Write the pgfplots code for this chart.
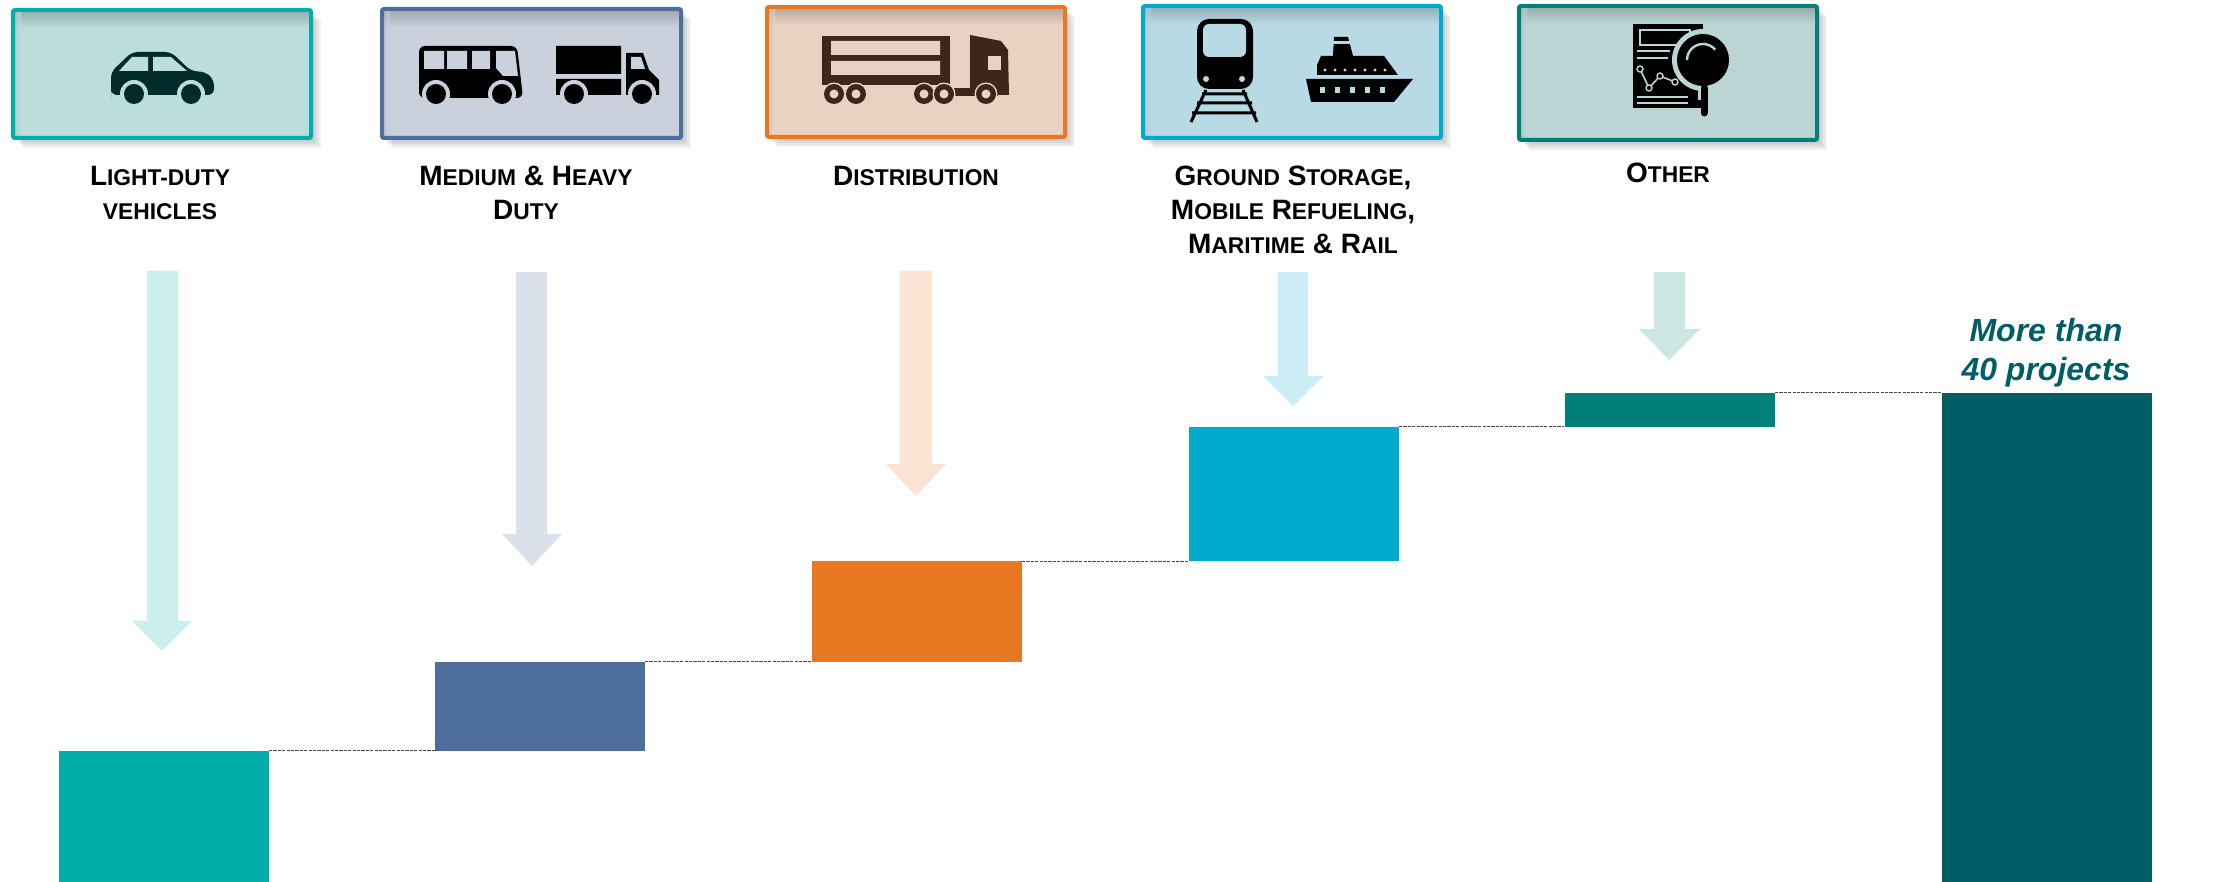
\documentclass[border=0pt]{standalone}
\usepackage{pgfplots}
\usepackage{pgfplotstable}
\usepackage{fontspec}
\setmainfont{Liberation Sans}
\pgfplotsset{compat=1.18}
\definecolor{cA}{HTML}{00ADA9}\definecolor{cB}{HTML}{4D6D9C}\definecolor{cC}{HTML}{E87722}
\definecolor{cD}{HTML}{00A9CE}\definecolor{cE}{HTML}{007F7B}\definecolor{cF}{HTML}{005C66}
\definecolor{fA}{HTML}{BBDDDB}\definecolor{fB}{HTML}{CAD0DC}\definecolor{fC}{HTML}{E9D2C2}
\definecolor{fD}{HTML}{B8DAE4}\definecolor{fE}{HTML}{BBD5D5}
\definecolor{aA}{HTML}{CCEEEC}\definecolor{aB}{HTML}{DBE1EB}\definecolor{aC}{HTML}{FBE3D3}
\definecolor{aD}{HTML}{CCEDF5}\definecolor{aE}{HTML}{CCE6E4}
\definecolor{carc}{HTML}{002B2B}\definecolor{trk}{HTML}{40251A}
\pgfplotstableread{
x     base  ldv  mhd  dist gnd  oth  tot
163.5 0     10.75 0    0    0    0    0
540   10.75 0    7.25 0    0    0    0
916.5 18.0  0    0    8.25 0    0    0
1293.5 26.25 0   0    0    11.0 0    0
1669.5 37.25 0   0    0    0    2.75 0
2046.5 0    0    0    0    0    0    40
}\bars
\newcommand\sm[1]{{\fontsize{11.4}{17}\selectfont #1}}
\newcommand\iconbox[6]{%
  \foreach \d in {2,4,...,10}{\fill[black,opacity=0.05] (#1+\d,#2+\d) rectangle (#3+\d,#4+\d);}
  \fill[#5] (#1,#2) rectangle (#3,#4);
  \shade[top color=black!22!#5,bottom color=#5] (#1,#2) rectangle (#3,#2+18);
  \shade[left color=black!10!#5,right color=#5,fill opacity=0.6] (#1,#2) rectangle (#1+8,#4);
  \draw[#6,line width=2pt,rounded corners=1pt] (#1,#2) rectangle (#3,#4);
}
\begin{document}
\begin{tikzpicture}
\path[use as bounding box] (0,0) rectangle (1117pt,441pt);
\begin{axis}[
  at={(0,0)},anchor=south west,
  scale only axis,width=1117pt,height=441pt,
  xmin=0,xmax=2234,ymin=0,ymax=72.147,
  hide axis,
  ybar stacked,bar width=210,
]
\addplot[draw=none,fill=none] table[x=x,y=base]{\bars};
\addplot[draw=none,fill=cA] table[x=x,y=ldv]{\bars};
\addplot[draw=none,fill=cB] table[x=x,y=mhd]{\bars};
\addplot[draw=none,fill=cC] table[x=x,y=dist]{\bars};
\addplot[draw=none,fill=cD] table[x=x,y=gnd]{\bars};
\addplot[draw=none,fill=cE] table[x=x,y=oth]{\bars};
\addplot[draw=none,fill=cF] table[x=x,y=tot]{\bars};
\end{axis}
\begin{axis}[
  at={(0,0)},anchor=south west,
  scale only axis,width=1117pt,height=441pt,
  xmin=0,xmax=2234,ymin=0,ymax=72.147,
  hide axis,
]
\addplot[black!72,line width=0.5pt,dash pattern=on 1.6pt off 0.6pt] coordinates {(269,10.75)(435,10.75)};
\addplot[black!72,line width=0.5pt,dash pattern=on 1.6pt off 0.6pt] coordinates {(645,18.0)(812,18.0)};
\addplot[black!72,line width=0.5pt,dash pattern=on 1.6pt off 0.6pt] coordinates {(1022,26.25)(1189,26.25)};
\addplot[black!72,line width=0.5pt,dash pattern=on 1.6pt off 0.6pt] coordinates {(1399,37.25)(1564,37.25)};
\addplot[black!72,line width=0.5pt,dash pattern=on 1.6pt off 0.6pt] coordinates {(1775,40)(1942,40)};
\end{axis}
\begin{scope}[x=0.5pt,y=-0.5pt,shift={(0,-882)}]
% boxes
\iconbox{13}{10}{311}{138}{fA}{cA}
\iconbox{382}{9}{681}{138}{fB}{cB}
\iconbox{767}{7}{1065}{137}{fC}{cC}
\iconbox{1143}{6}{1441}{138}{fD}{cD}
\iconbox{1519}{6}{1817}{140}{fE}{cE}
% arrows
\fill[aA] (147,271)--(178,271)--(178,621)--(192,621)--(162,651)--(132,621)--(147,621)--cycle;
\fill[aB] (516,272)--(547,272)--(547,534)--(562,534)--(532,566)--(502,534)--(516,534)--cycle;
\fill[aC] (900,271)--(932,271)--(932,464)--(946,464)--(916,496)--(886,464)--(900,464)--cycle;
\fill[aD] (1278,272)--(1308,272)--(1308,376)--(1323,376)--(1293,406)--(1263,376)--(1278,376)--cycle;
\fill[aE] (1654,272)--(1685,272)--(1685,329)--(1700,329)--(1669,360)--(1639,329)--(1654,329)--cycle;
% labels
\begin{scope}[every node/.style={align=center,font=\bfseries\fontsize{14}{17}\selectfont,inner sep=0pt,anchor=north}]
\node at (160,166) {L\sm{IGHT-DUTY}\\[0pt]\sm{VEHICLES}};
\node at (526,166) {M\sm{EDIUM} \& H\sm{EAVY}\\D\sm{UTY}};
\node at (916,166) {D\sm{ISTRIBUTION}};
\node at (1293,166) {G\sm{ROUND} S\sm{TORAGE},\\M\sm{OBILE} R\sm{EFUELING},\\M\sm{ARITIME} \& R\sm{AIL}};
\node at (1668,163) {O\sm{THER}};
\end{scope}
\node[align=center,text=cF,font=\bfseries\itshape\fontsize{16}{19.5}\selectfont,inner sep=0pt] at (2046,353) {More than\\40 projects};
% car
\fill[carc,rounded corners=3pt] (111,92)--(111,72)--(132,52)--(171,52)--(191,71)--(206,72)--(214,80)--(214,95)--(111,95)--cycle;
\fill[fA] (119,71)--(132,57)--(148,57)--(148,71)--cycle (153,57)--(171,57)--(187,71)--(153,71)--cycle;
\foreach \c in {134,191}{\fill[fA] (\c,94) circle (14);\fill[carc] (\c,94) circle (10);}
% bus
\begin{scope}[shift={(-3,0)}]
\fill[black,rounded corners=3pt] (422,98)--(422,46)--(520,46)--(526,98)--cycle;
\fill[fB] (427,51) rectangle (447,69) (450,51) rectangle (470,69) (475,51) rectangle (493,69);
\fill[fB] (499,51)--(518,51)--(521,76)--(506,76)--(499,68)--cycle;
\foreach \c in {439,505}{\fill[fB] (\c,94) circle (14);\fill[black] (\c,94) circle (10);}
\end{scope}
% truck
\begin{scope}[shift={(-5,0)}]
\fill[black] (561,46) rectangle (626,74) (561,79) rectangle (626,95);
\fill[black] (631,95)--(631,53)--(648,53)--(654,70)--(664,80)--(664,95)--cycle;
\fill[fB] (636,57)--(646,57)--(650,69)--(636,69)--cycle;
\foreach \c in {579,647}{\fill[fB] (\c,94) circle (14);\fill[black] (\c,94) circle (10);}
\end{scope}
% distribution truck
\begin{scope}[shift={(-2,0)}]
\fill[trk] (824,36) rectangle (952,85);
\fill[fC] (833,41) rectangle (942,55) (833,61) rectangle (942,75);
\fill[trk] (972,35)--(1003,41)--(1010,50)--(1011,95)--(972,95)--cycle;
\fill[trk] (940,88) rectangle (1000,96);
\fill[fC] (990,56) rectangle (1003,70);
\foreach \c in {836,858,926,946,988}{\fill[fC] (\c,94) circle (11.5);\fill[trk] (\c,94) circle (10);\fill[fC] (\c,94) circle (4.5);}
\end{scope}
% train
\begin{scope}[shift={(-2,0)}]
\fill[black,rounded corners=6pt] (1199,19) rectangle (1255,89);
\fill[fD,rounded corners=3pt] (1205,24) rectangle (1248,57);
\fill[fD] (1208,79) circle (3) (1244,79) circle (3);
\draw[black,line width=1.5pt] (1208,90)--(1193,122) (1245,90)--(1259,122) (1204,94)--(1249,94) (1199,103)--(1254,103) (1194,113)--(1258,113);
\end{scope}
% ship
\begin{scope}[shift={(-4,0)}]
\fill[black] (1310,79)--(1417,79)--(1398,102)--(1315,102)--cycle;
\fill[black] (1321,75)--(1321,65)--(1325,56)--(1388,56)--(1402,75)--cycle;
\fill[black] (1338,37)--(1352,37)--(1357,56)--(1337,56)--cycle;
\fill[fD] (1337,41) rectangle (1355,44);
\foreach \c in {1327,1342,1357,1372,1387}{\fill[fD] (\c-3,87) rectangle (\c+2,93);}
\foreach \c in {1329,1339,1349,1359,1369,1379,1389}{\fill[fD] (\c,70) circle (1.6);}
\end{scope}
% other
\fill[black] (1633,24) rectangle (1703,108);
\draw[fE,line width=1pt] (1640,30) rectangle (1690,45);
\draw[fE,line width=1.2pt] (1637,51)--(1670,51) (1637,58)--(1668,58) (1637,97)--(1688,97) (1637,103)--(1688,103);
\draw[fE,line width=0.8pt] (1640,69)--(1649,88)--(1660,76)--(1675,82);
\foreach \p/\q in {1640/69,1649/88,1660/76,1675/82}{\fill[black] (\p,\q) circle (3);\draw[fE,line width=0.7pt] (\p,\q) circle (3);}
\fill[fE] (1703,60) circle (31);
\fill[black] (1703,60) circle (26);
\draw[fE,line width=1.2pt] (1687,60) arc (180:320:16) ;
\fill[fE] (1698,86) rectangle (1710,100);
\draw[black,line width=3.5pt,line cap=round] (1704,88)--(1704,113);
\end{scope}
\end{tikzpicture}
\end{document}
